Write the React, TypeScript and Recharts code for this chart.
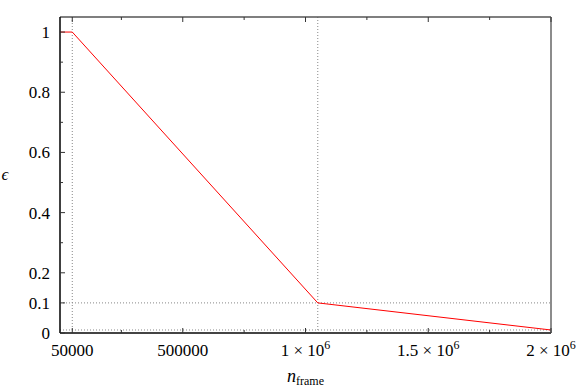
import { LineChart, Line, XAxis, YAxis, ReferenceLine } from "recharts";

// epsilon schedule: flat at 1 until 50000, linear to 0.1, then to 0.01
const frames = [0, 50000, 1050000, 2000000];
const epsilon = [1, 1, 0.1, 0.01];

const xMajor = [50000, 500000, 1000000, 1500000, 2000000];
const xMajorLabels = ["50000", "500000", "1 × 10^6", "1.5 × 10^6", "2 × 10^6"];
const xMinor = [250000, 750000, 1250000, 1750000];

const yMajor = [0, 0.1, 0.2, 0.4, 0.6, 0.8, 1];
const yMajorLabels = ["0", "0.1", "0.2", "0.4", "0.6", "0.8", "1"];
const yMinor = [0.3, 0.5, 0.7, 0.9];

const guideX = [50000, 1050000];
const guideY = [0.1, 0.01];

const data = frames.map((f, i) => ({ frame: f, eps: epsilon[i] }));

const FONT = "Liberation Serif, DejaVu Serif, serif";
const TICK = "#333";
const textStyle = { fontFamily: FONT };

function XTick(props: any) {
  const { x, y, payload, side } = props;
  const v = payload.value;
  const idx = xMajor.indexOf(v);
  const len = idx >= 0 ? 5 : 3;
  const dir = side === "bottom" ? -1 : 1;
  let label: any = null;
  if (side === "bottom" && idx >= 0) {
    const [base, exp] = xMajorLabels[idx].split("^");
    label = (
      <text x={x} y={y + 23} textAnchor="middle" style={textStyle} fontSize={17} fill="#000">
        {base}
        {exp && (
          <tspan dy={-7} fontSize={12}>
            {exp}
          </tspan>
        )}
      </text>
    );
  }
  return (
    <g>
      <line x1={x} x2={x} y1={y} y2={y + dir * len} stroke={TICK} strokeWidth={1} />
      {label}
    </g>
  );
}

function YTick(props: any) {
  const { x, y, payload, side } = props;
  const v = payload.value;
  const idx = yMajor.indexOf(v);
  const len = idx >= 0 ? 5 : 3;
  const dir = side === "left" ? 1 : -1;
  return (
    <g>
      <line x1={x} x2={x + dir * len} y1={y} y2={y} stroke={TICK} strokeWidth={1} />
      {side === "left" && idx >= 0 && (
        <text x={x - 10} y={y + 6} textAnchor="end" style={textStyle} fontSize={17} fill="#000">
          {yMajorLabels[idx]}
        </text>
      )}
    </g>
  );
}

export default function App() {
  const xTicks = [...xMajor, ...xMinor].sort((a, b) => a - b);
  const yTicks = [...yMajor, ...yMinor].sort((a, b) => a - b);

  return (
    <div style={{ position: "absolute", left: 0, top: 0, background: "#fff", fontFamily: FONT }}>
      <LineChart
        width={582}
        height={389}
        data={data}
        margin={{ top: 16, right: 30, bottom: 0, left: 0 }}
      >
        <XAxis
          xAxisId="b"
          dataKey="frame"
          type="number"
          domain={[0, 2000000]}
          ticks={xTicks}
          interval={0}
          height={56}
          tickSize={0}
          tickMargin={0}
          tickLine={false}
          axisLine={{ stroke: "#444", strokeWidth: 2 }}
          tick={(p: any) => <XTick {...p} side="bottom" />}
          label={{
            content: (p: any) => {
              const vb = p.viewBox;
              return (
                <text
                  x={vb.x + vb.width / 2}
                  y={vb.y + 49}
                  textAnchor="middle"
                  style={textStyle}
                  fill="#000"
                >
                  <tspan fontStyle="italic" fontSize={18}>n</tspan>
                  <tspan fontSize={12} dy={3}>frame</tspan>
                </text>
              );
            },
          }}
        />
        <XAxis
          xAxisId="t"
          orientation="top"
          dataKey="frame"
          type="number"
          domain={[0, 2000000]}
          ticks={xTicks}
          interval={0}
          height={1}
          tickSize={0}
          tickMargin={0}
          tickLine={false}
          axisLine={{ stroke: "#555", strokeWidth: 1.5 }}
          tick={(p: any) => <XTick {...p} side="top" />}
        />
        <YAxis
          yAxisId="l"
          type="number"
          domain={[0, 1.05]}
          ticks={yTicks}
          interval={0}
          width={60}
          tickSize={0}
          tickMargin={0}
          tickLine={false}
          axisLine={{ stroke: "#000", strokeWidth: 1.5 }}
          tick={(p: any) => <YTick {...p} side="left" />}
          label={{
            content: (p: any) => {
              const vb = p.viewBox;
              return (
                <text
                  x={vb.x + 5}
                  y={vb.y + vb.height / 2 + 5}
                  textAnchor="middle"
                  style={textStyle}
                  fontStyle="italic"
                  fontSize={17}
                  fill="#000"
                >
                  ϵ
                </text>
              );
            },
          }}
        />
        <YAxis
          yAxisId="r"
          orientation="right"
          type="number"
          domain={[0, 1.05]}
          ticks={yTicks}
          interval={0}
          width={1}
          tickSize={0}
          tickMargin={0}
          tickLine={false}
          axisLine={{ stroke: "#666", strokeWidth: 1.5 }}
          tick={(p: any) => <YTick {...p} side="right" />}
        />
        {guideX.map((gx) => (
          <ReferenceLine
            key={"gx" + gx}
            x={gx}
            xAxisId="b"
            yAxisId="l"
            stroke="#888"
            strokeDasharray="1 2"
          />
        ))}
        {guideY.map((gy) => (
          <ReferenceLine
            key={"gy" + gy}
            y={gy}
            xAxisId="b"
            yAxisId="l"
            stroke="#888"
            strokeDasharray="1 2"
          />
        ))}
        <Line
          xAxisId="b"
          yAxisId="l"
          type="linear"
          dataKey="eps"
          stroke="#ff0000"
          strokeWidth={1}
          dot={false}
          activeDot={false}
          isAnimationActive={false}
        />
      </LineChart>
    </div>
  );
}
